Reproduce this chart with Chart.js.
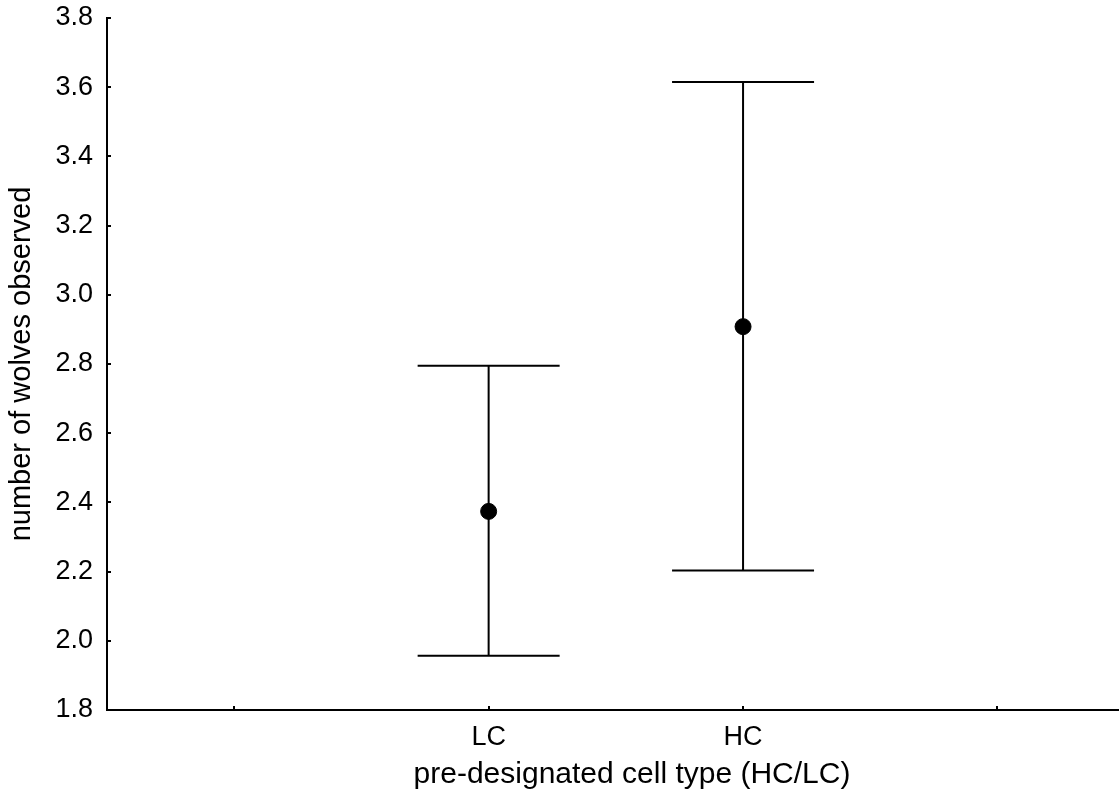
<!DOCTYPE html>
<html>
<head>
<meta charset="utf-8">
<script src="https://cdn.jsdelivr.net/npm/chart.js@4/dist/chart.umd.min.js"></script>
<style>
  html, body { margin: 0; padding: 0; background: #fff; overflow: hidden; }
  #wrap { width: 1119px; height: 803px; overflow: hidden; position: relative; }
  canvas { display: block; }
</style>
</head>
<body>
<div id="wrap"><canvas id="c" width="1166" height="803"></canvas></div>
<script>
// ---- data ----
const xTickLabels = ['', 'LC', 'HC', ''];
const categories = ['LC', 'HC'];
const means  = [2.374, 2.908];
const lowers = [1.957, 2.203];
const uppers = [2.795, 3.615];
const yTickValues = [1.8, 2.0, 2.2, 2.4, 2.6, 2.8, 3.0, 3.2, 3.4, 3.6, 3.8];

const FONT = "'Liberation Sans', Arial, sans-serif";
const CAP_HALF = 71;   // px
const TICK_IN = 4;     // px

const points = categories.map((c, i) => ({ x: xTickLabels.indexOf(c), y: means[i] }));

const errorBars = {
  id: 'errorBars',
  beforeDatasetsDraw(chart) {
    const { ctx, scales: { x, y } } = chart;
    ctx.save();
    ctx.strokeStyle = '#000';
    ctx.lineWidth = 2;
    categories.forEach((c, i) => {
      const px = x.getPixelForValue(xTickLabels.indexOf(c));
      const pLo = y.getPixelForValue(lowers[i]);
      const pHi = y.getPixelForValue(uppers[i]);
      ctx.beginPath();
      ctx.moveTo(px, pLo); ctx.lineTo(px, pHi);
      ctx.moveTo(px - CAP_HALF, pHi); ctx.lineTo(px + CAP_HALF, pHi);
      ctx.moveTo(px - CAP_HALF, pLo); ctx.lineTo(px + CAP_HALF, pLo);
      ctx.stroke();
    });
    ctx.restore();
  },
  afterDraw(chart) {
    const { ctx, scales: { x, y } } = chart;
    ctx.save();
    ctx.strokeStyle = '#000';
    ctx.lineWidth = 2;
    ctx.beginPath();
    yTickValues.forEach(v => {
      const py = Math.round(y.getPixelForValue(v));
      ctx.moveTo(x.left, py); ctx.lineTo(x.left + TICK_IN, py);
    });
    xTickLabels.forEach((l, i) => {
      const px = Math.round(x.getPixelForValue(i));
      ctx.moveTo(px, y.bottom); ctx.lineTo(px, y.bottom - TICK_IN);
    });
    ctx.stroke();
    ctx.restore();
  }
};

new Chart(document.getElementById('c'), {
  type: 'scatter',
  data: {
    datasets: [{
      data: points,
      backgroundColor: '#000',
      borderColor: '#000',
      pointRadius: 8,
      pointHoverRadius: 8,
      pointStyle: 'circle'
    }]
  },
  options: {
    responsive: false,
    animation: false,
    layout: { padding: { top: 18, right: 0, left: 0, bottom: 0 } },
    plugins: { legend: { display: false }, tooltip: { enabled: false } },
    scales: {
      x: {
        type: 'linear',
        min: -0.5,
        max: 3.627,
        afterBuildTicks(scale) { scale.ticks = xTickLabels.map((l, i) => ({ value: i })); },
        afterFit(scale) { scale.height = 93; scale.paddingLeft = 0; scale.paddingRight = 0; },
        grid: { display: false, drawTicks: false },
        border: { display: true, color: '#000', width: 2 },
        ticks: {
          padding: 11,
          color: '#000',
          font: { family: FONT, size: 27 },
          maxRotation: 0,
          autoSkip: false,
          callback: (v) => xTickLabels[v] ?? ''
        },
        title: {
          display: true,
          text: 'pre-designated cell type (HC/LC)',
          color: '#000',
          font: { family: FONT, size: 30 },
          padding: { top: 0, bottom: 10 }
        }
      },
      y: {
        min: 1.8,
        max: 3.8,
        afterBuildTicks(scale) { scale.ticks = yTickValues.map(v => ({ value: v })); },
        afterFit(scale) { scale.width = 107; scale.paddingTop = 0; scale.paddingBottom = 0; },
        grid: { display: false, drawTicks: false },
        border: { display: true, color: '#000', width: 2 },
        ticks: {
          padding: 14,
          color: '#000',
          font: { family: FONT, size: 27 },
          callback: (v) => Number(v).toFixed(1)
        },
        title: {
          display: true,
          text: 'number of wolves observed',
          color: '#000',
          font: { family: FONT, size: 29 },
          padding: { top: 5, bottom: 0 }
        }
      }
    }
  },
  plugins: [errorBars]
});
</script>
</body>
</html>
